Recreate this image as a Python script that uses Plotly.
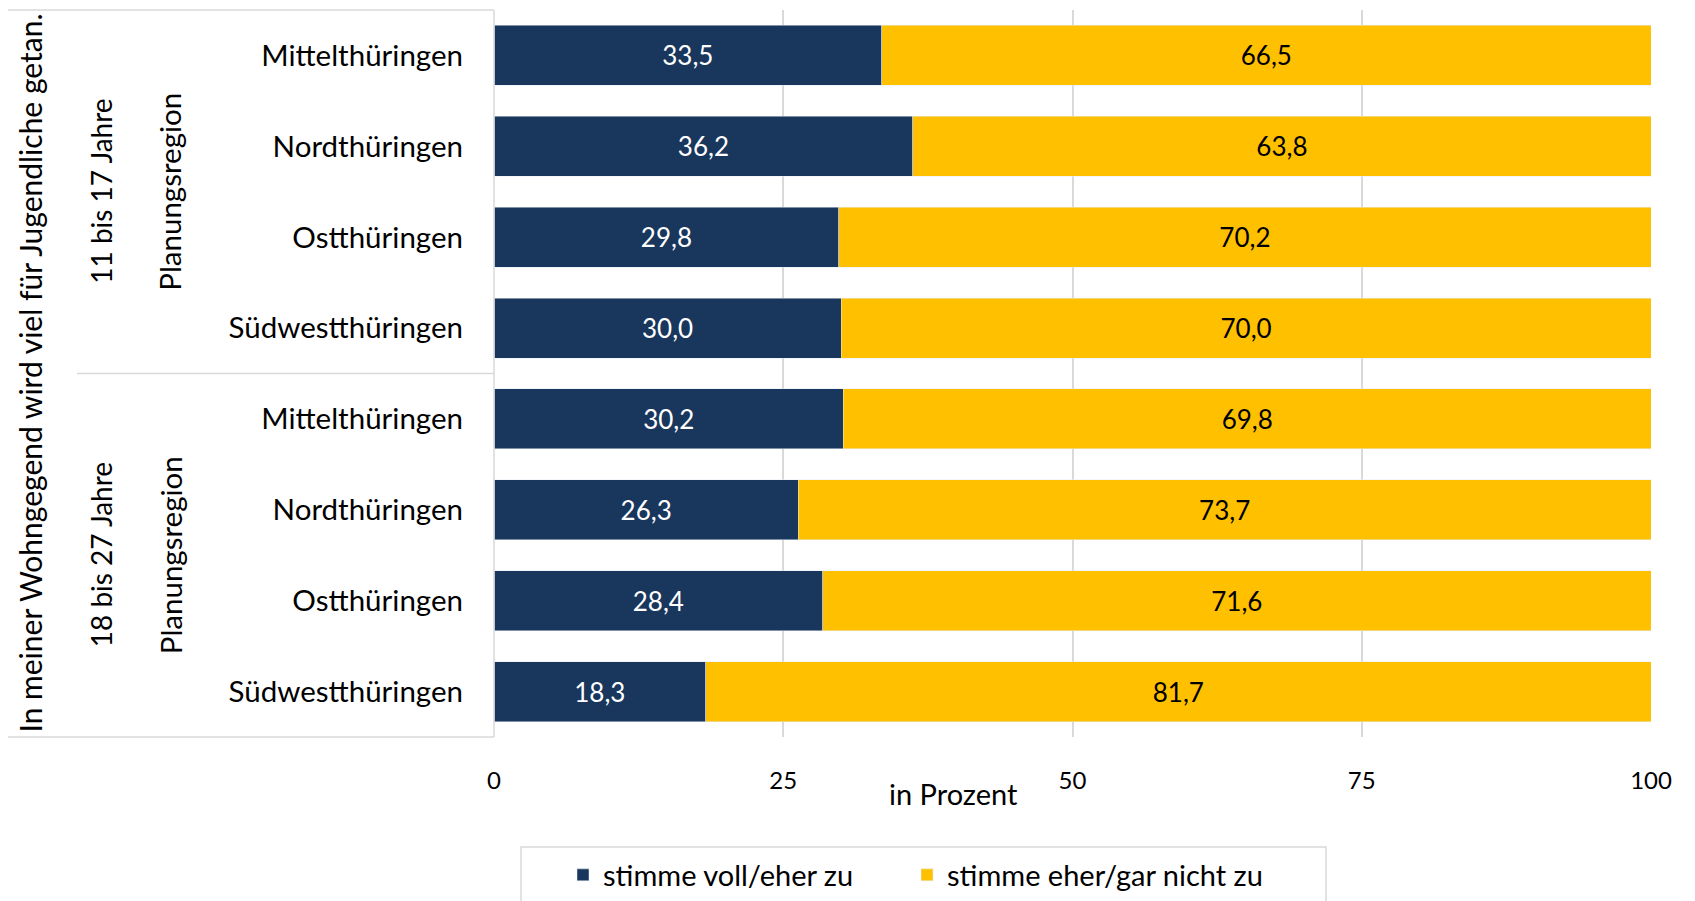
import plotly.graph_objects as go

regions = ["Mittelthüringen", "Nordthüringen", "Ostthüringen", "Südwestthüringen",
           "Mittelthüringen", "Nordthüringen", "Ostthüringen", "Südwestthüringen"]
age_groups = ["11 bis 17 Jahre", "18 bis 27 Jahre"]
group_label = "Planungsregion"
question = "In meiner Wohngegend wird viel für Jugendliche getan."
agree = [33.5, 36.2, 29.8, 30.0, 30.2, 26.3, 28.4, 18.3]
disagree = [66.5, 63.8, 70.2, 70.0, 69.8, 73.7, 71.6, 81.7]
series_names = ["stimme voll/eher zu", "stimme eher/gar nicht zu"]
x_ticks = [0, 25, 50, 75, 100]

NAVY = "#19365D"
YELLOW = "#FFC000"
GRID = "#D9D9D9"
FONT = "Lato"

OFF = 8  # page body margin
W, H = 1695, 901
# screen coordinates of the plot area
SX0, SX1, SY0, SY1 = 494, 1651, 10, 737
L, R, T, B = SX0 - OFF, W - (SX1 - OFF), SY0 - OFF, H - (SY1 - OFF)
PW, PH = SX1 - SX0, SY1 - SY0

def px2x(px):
    return (px - SX0) / PW

def px2y(py):
    return (SY1 - py) / PH

rows = list(range(len(regions)))

fig = go.Figure()
fig.add_trace(go.Bar(
    y=rows, x=agree, orientation="h", name=series_names[0], legend="legend",
    marker=dict(color=NAVY), texttemplate="%{x:.1f}", textposition="inside",
    insidetextanchor="middle", textfont=dict(color="white", size=26, family=FONT),
    hoverinfo="x"))
fig.add_trace(go.Bar(
    y=rows, x=disagree, orientation="h", name=series_names[1], legend="legend2",
    marker=dict(color=YELLOW), texttemplate="%{x:.1f}", textposition="inside",
    insidetextanchor="middle", textfont=dict(color="black", size=26, family=FONT),
    hoverinfo="x"))

shapes = []
shapes.append(dict(type="line", xref="paper", yref="paper", x0=px2x(6), x1=0, y0=1, y1=1,
                   line=dict(color=GRID, width=1.5)))
shapes.append(dict(type="line", xref="paper", yref="paper", x0=px2x(6), x1=0, y0=0, y1=0,
                   line=dict(color=GRID, width=1.5)))
shapes.append(dict(type="line", xref="paper", yref="y", x0=px2x(77), x1=0, y0=3.5, y1=3.5,
                   line=dict(color=GRID, width=1.5)))
shapes.append(dict(type="line", xref="paper", yref="paper", x0=0, x1=0, y0=0, y1=1,
                   line=dict(color=GRID, width=1.5)))
shapes.append(dict(type="rect", xref="paper", yref="paper", x0=px2x(521), x1=px2x(1326),
                   y0=px2y(920), y1=px2y(847), line=dict(color=GRID, width=1.5),
                   fillcolor="rgba(0,0,0,0)"))

annotations = [
    dict(text=question, xref="paper", yref="paper", x=px2x(29), y=0.5, textangle=-90,
         showarrow=False, xanchor="center", yanchor="middle",
         font=dict(size=30, family=FONT, color="black")),
    dict(text="in Prozent", xref="paper", yref="paper", x=px2x(953), y=px2y(793),
         showarrow=False, xanchor="center", yanchor="middle",
         font=dict(size=29, family=FONT, color="black")),
]
for i, g in enumerate(age_groups):
    yc = 1.5 + 4 * i
    annotations.append(dict(text=g, xref="paper", yref="y", x=px2x(101), y=yc, textangle=-90,
                            showarrow=False, xanchor="center", yanchor="middle",
                            font=dict(size=28, family=FONT, color="black")))
    annotations.append(dict(text=group_label, xref="paper", yref="y", x=px2x(170), y=yc,
                            textangle=-90, showarrow=False, xanchor="center", yanchor="middle",
                            font=dict(size=29.5, family=FONT, color="black")))

legend_common = dict(orientation="h", yanchor="middle", y=px2y(875),
                     font=dict(size=29, family=FONT), bgcolor="rgba(0,0,0,0)",
                     itemwidth=30, xanchor="left")

fig.update_layout(
    width=W, height=H,
    margin=dict(l=L, r=R, t=T, b=B, autoexpand=False),
    barmode="stack", bargap=0.34,
    separators=",.",
    plot_bgcolor="white", paper_bgcolor="white",
    font=dict(family=FONT, color="black"),
    showlegend=True,
    legend=dict(x=px2x(563), **legend_common),
    legend2=dict(x=px2x(907), **legend_common),
    shapes=shapes, annotations=annotations,
    xaxis=dict(range=[0, 100], tickvals=x_ticks, ticktext=[str(v) for v in x_ticks],
               showgrid=True, gridcolor=GRID, gridwidth=1.5, zeroline=False,
               showline=False, ticks="", ticklabelstandoff=27,
               tickfont=dict(size=24, family=FONT)),
    yaxis=dict(tickvals=rows, ticktext=regions, autorange=False,
               range=[len(rows) - 0.5, -0.5], showgrid=False, zeroline=False,
               showline=False, ticks="", ticklabelstandoff=30,
               tickfont=dict(size=29.5, family=FONT)),
)

fig.write_html("out.html")
